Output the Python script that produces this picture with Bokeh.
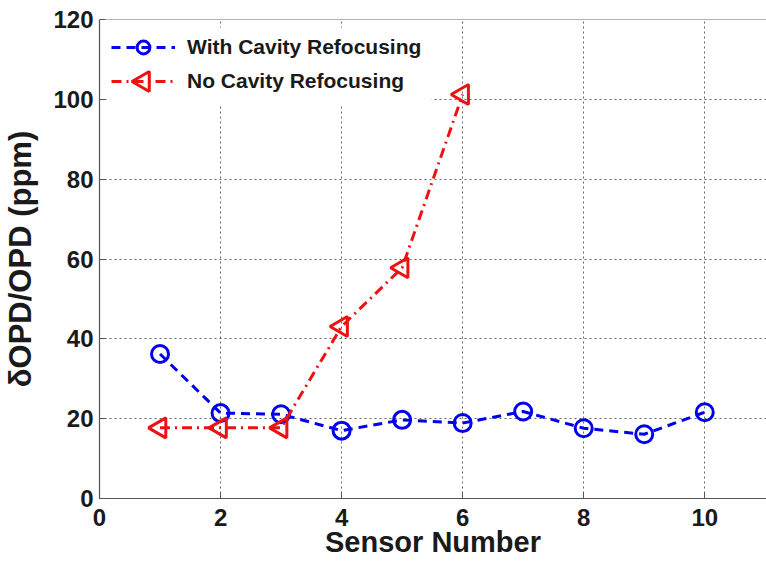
import math
from bokeh.plotting import figure
from bokeh.models import Range1d, Span, Legend, LegendItem, FixedTicker, BoxAnnotation
from bokeh.embed import file_html
from bokeh.resources import INLINE

# Sensor readings
sensors_with = [1, 2, 3, 4, 5, 6, 7, 8, 9, 10]
opd_with = [36.2, 21.4, 21.1, 17.0, 19.7, 18.9, 21.8, 17.6, 16.1, 21.6]

sensors_without = [1, 2, 3, 4, 5, 6]
opd_without = [17.7, 17.7, 17.7, 43.1, 57.8, 101.2]

x_ticks = [0, 2, 4, 6, 8, 10]
y_ticks = [0, 20, 40, 60, 80, 100, 120]

FONT = "Liberation Sans"

# page / frame geometry (px)
W, H = 766, 565
BORDER_L, BORDER_R, BORDER_T, BORDER_B = 99, 0, 19, 67
X_END, Y_END = 11.02, 120

# legend geometry (px)
LEG_MARGIN, LEG_PAD, LEG_SPACING = 10, 2, 2
GLYPH_W, GLYPH_H = 64, 32
LEG_BOX_W = 322

frame_w = W - BORDER_L - BORDER_R
frame_h = H - BORDER_T - BORDER_B


def px_to_x(px):
    return px * X_END / frame_w


def px_to_y(py):
    # py measured downward from the top of the frame
    return Y_END - py * Y_END / frame_h


p = figure(width=W, height=H, output_backend="svg", toolbar_location=None,
           x_range=Range1d(0, X_END), y_range=Range1d(0, Y_END),
           min_border_left=BORDER_L, min_border_right=BORDER_R,
           min_border_top=BORDER_T, min_border_bottom=BORDER_B)

p.outline_line_color = None
p.background_fill_color = "white"
p.border_fill_color = "white"

# top frame edge
p.add_layout(Span(location=Y_END, dimension="width", line_color="#666666", line_width=1.2))

for ax, ticks in ((p.xaxis[0], x_ticks), (p.yaxis[0], y_ticks)):
    ax.ticker = FixedTicker(ticks=ticks)
    ax.major_label_text_font = FONT
    ax.major_label_text_font_style = "bold"
    ax.major_label_text_font_size = "24px"
    ax.major_label_text_color = "#1a1a1a"
    ax.axis_line_color = "#555555"
    ax.axis_line_width = 1.2
    ax.major_tick_in = 6
    ax.major_tick_out = 0
    ax.major_tick_line_color = "#555555"
    ax.minor_tick_line_color = None
    ax.axis_label_text_font = FONT
    ax.axis_label_text_font_style = "bold"
    ax.axis_label_text_color = "#1a1a1a"

p.xaxis.axis_label = "Sensor Number"
p.yaxis.axis_label = "\u03b4OPD/OPD (ppm)"
p.xaxis.axis_label_text_font_size = "29px"
p.yaxis.axis_label_text_font_size = "31px"
p.xaxis.major_label_standoff = 10
p.yaxis.major_label_standoff = 6
p.xaxis.axis_label_standoff = -3
p.yaxis.axis_label_standoff = 12

for g in (p.xgrid[0], p.ygrid[0]):
    g.grid_line_color = "#555555"
    g.grid_line_dash = "2 3"
    g.grid_line_width = 1
    g.grid_line_alpha = 0.9
p.xgrid.ticker = FixedTicker(ticks=x_ticks)
p.ygrid.ticker = FixedTicker(ticks=y_ticks)

# white panel behind the legend, above the grid but below the glyphs
leg_top = LEG_MARGIN - 2
leg_bottom = LEG_MARGIN + 2 * LEG_PAD + 2 * GLYPH_H + LEG_SPACING + 6
p.add_layout(BoxAnnotation(left=px_to_x(LEG_MARGIN), right=px_to_x(LEG_MARGIN + LEG_BOX_W),
                           top=px_to_y(leg_top), bottom=px_to_y(leg_bottom),
                           fill_color="white", fill_alpha=1, line_color=None,
                           level="underlay"))

BLUE, RED = "#0000ee", "#ee1111"
RED_DASH = "10 5 2 5"

blue_line = p.line(sensors_with, opd_with, line_color=BLUE, line_width=3,
                   line_dash="9 6")
blue_pts = p.scatter(sensors_with, opd_with, marker="circle", size=17,
                     line_color=BLUE, line_width=3, fill_color=None)

red_line = p.line(sensors_without, opd_without, line_color=RED, line_width=3,
                  line_dash=RED_DASH)
# left-pointing triangles
red_pts = p.scatter(sensors_without, opd_without, marker="triangle", size=20,
                    angle=math.pi / 2, line_color=RED, line_width=3,
                    fill_color=None)

# The legend swatch ignores marker rotation, so the left-pointing triangle of
# the second entry is drawn as a glyph at the swatch centre.
sw_px_x = LEG_MARGIN + LEG_PAD + GLYPH_W / 2
sw_px_y = LEG_MARGIN + LEG_PAD + GLYPH_H + LEG_SPACING + GLYPH_H / 2
p.scatter([px_to_x(sw_px_x)], [px_to_y(sw_px_y)], marker="triangle", size=20,
          angle=math.pi / 2, line_color=RED, line_width=3, fill_color=None)

legend = Legend(items=[
    LegendItem(label="With Cavity Refocusing", renderers=[blue_line, blue_pts]),
    LegendItem(label="No Cavity Refocusing", renderers=[red_line]),
], location="top_left")
legend.margin = LEG_MARGIN
legend.padding = LEG_PAD
legend.spacing = LEG_SPACING
legend.glyph_width = GLYPH_W
legend.glyph_height = GLYPH_H
legend.label_standoff = 12
legend.label_text_font = FONT
legend.label_text_font_style = "bold"
legend.label_text_font_size = "21px"
legend.label_text_color = "#1a1a1a"
legend.border_line_alpha = 0
legend.background_fill_alpha = 0
p.add_layout(legend)

open("out.html", "w").write(file_html(p, INLINE))
